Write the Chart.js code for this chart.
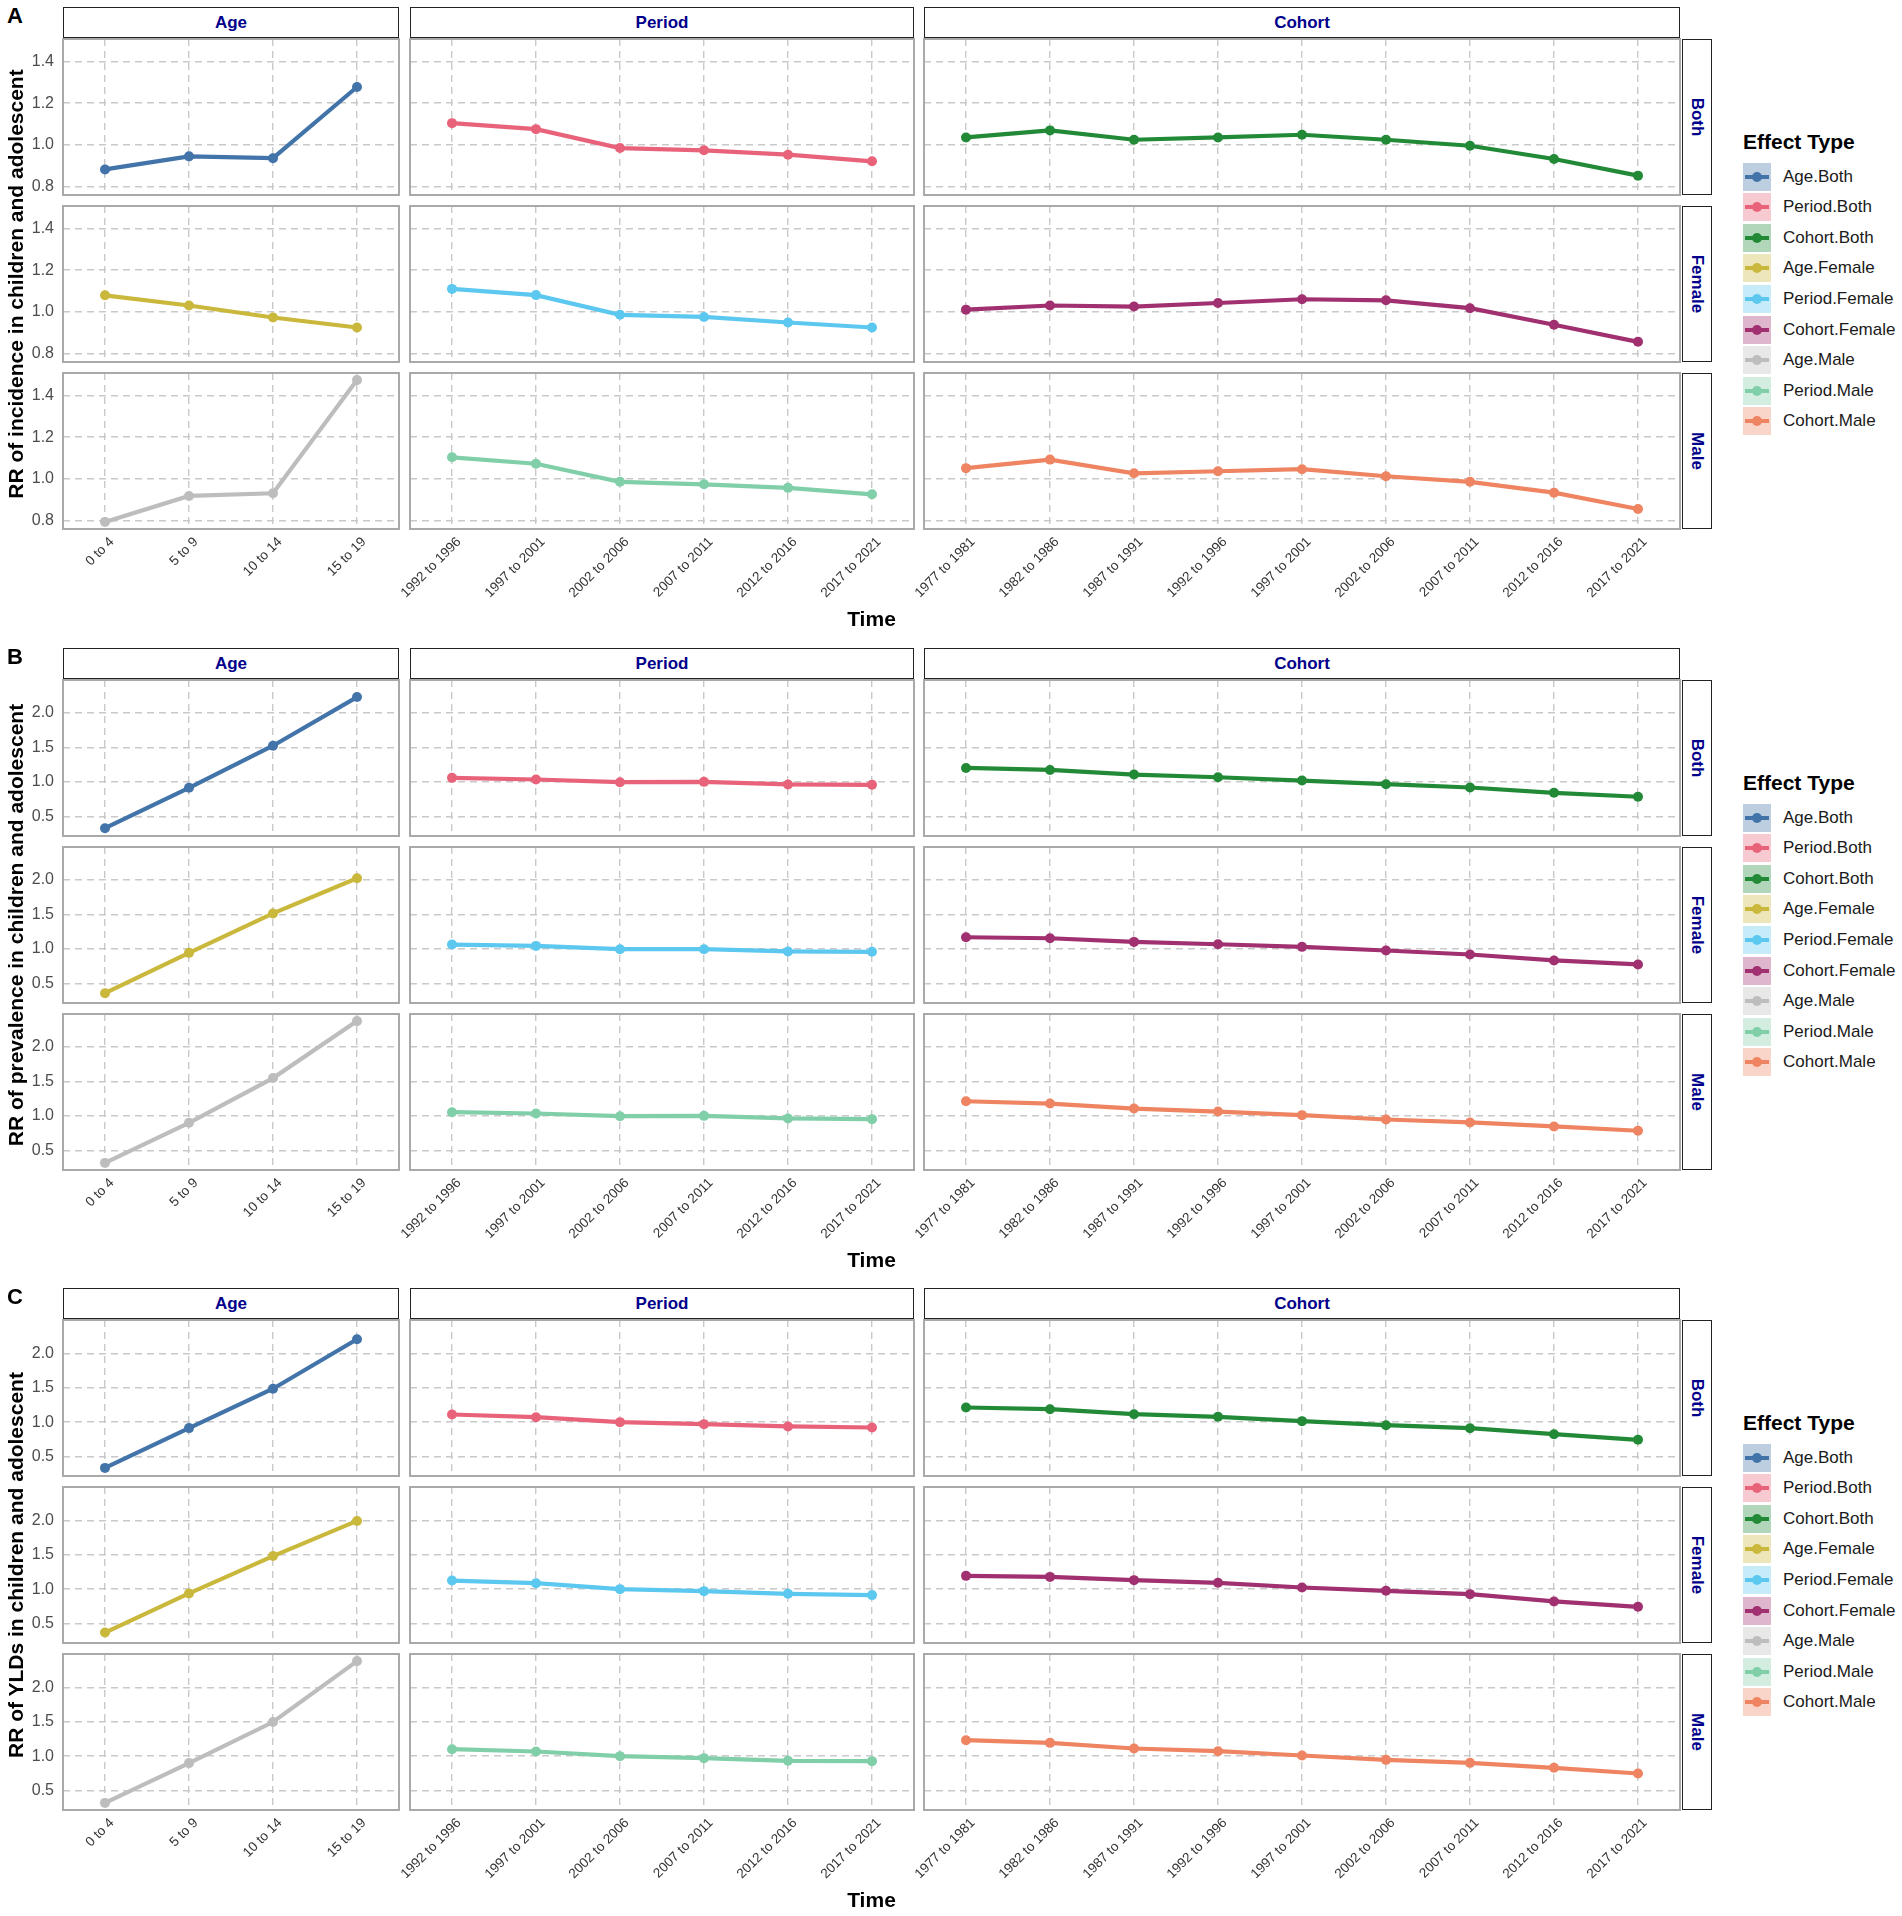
<!DOCTYPE html>
<html><head><meta charset="utf-8">
<script src="https://cdn.jsdelivr.net/npm/chart.js@4.4.1/dist/chart.umd.min.js"></script>
<style>
html,body{margin:0;padding:0;background:#fff;}
body{width:1902px;height:1916px;position:relative;overflow:hidden;font-family:'Liberation Sans',Arial,Helvetica,sans-serif;}
.strip{position:absolute;box-sizing:border-box;border:1.6px solid #222;background:#fff;color:#00008B;font-weight:bold;font-size:17px;display:flex;align-items:center;justify-content:center;white-space:nowrap;}
.vt{transform:rotate(90deg);display:inline-block;}
.letter{position:absolute;font-weight:bold;font-size:22px;line-height:22px;color:#000;}
.ytitle{position:absolute;width:700px;height:26px;line-height:26px;text-align:center;font-weight:bold;font-size:21px;color:#000;transform:rotate(-90deg);white-space:nowrap;}
.xtitle{position:absolute;width:200px;height:26px;line-height:26px;text-align:center;font-weight:bold;font-size:21px;color:#000;}
.ltitle{position:absolute;font-weight:bold;font-size:21px;height:26px;line-height:26px;color:#000;white-space:nowrap;}
.lkey{position:absolute;width:28px;height:28px;}
.lline{position:absolute;left:2px;top:12px;width:24px;height:4px;}
.ldot{position:absolute;left:9px;top:9px;width:10px;height:10px;border-radius:50%;}
.llab{position:absolute;font-size:17px;height:22px;line-height:22px;color:#1a1a1a;white-space:nowrap;}
canvas{position:absolute;}
</style></head><body>
<script>
// ---------- categories / labels ----------
const effectTypes = ['Age', 'Period', 'Cohort'];
const sexGroups = ['Both', 'Female', 'Male'];
const ageGroups = ['0 to 4', '5 to 9', '10 to 14', '15 to 19'];
const periodGroups = ['1992 to 1996', '1997 to 2001', '2002 to 2006', '2007 to 2011', '2012 to 2016', '2017 to 2021'];
const cohortGroups = ['1977 to 1981', '1982 to 1986', '1987 to 1991', '1992 to 1996', '1997 to 2001', '2002 to 2006', '2007 to 2011', '2012 to 2016', '2017 to 2021'];
const panelLetters = ['A', 'B', 'C'];
const measureTitles = ['RR of incidence in children and adolescent', 'RR of prevalence in children and adolescent', 'RR of YLDs in children and adolescent'];
const xAxisTitle = 'Time';
const legendTitle = 'Effect Type';

// ---------- tick labels ----------
const yTicksIncidence = [0.8, 1.0, 1.2, 1.4];
const yTicksPrevalence = [0.5, 1.0, 1.5, 2.0];
const yTicksYLDs = [0.5, 1.0, 1.5, 2.0];

// ---------- A: incidence ----------
const incAgeBoth = [0.881, 0.944, 0.935, 1.278];
const incPeriodBoth = [1.104, 1.075, 0.984, 0.973, 0.952, 0.920];
const incCohortBoth = [1.035, 1.069, 1.024, 1.035, 1.048, 1.024, 0.995, 0.931, 0.851];
const incAgeFemale = [1.079, 1.030, 0.972, 0.924];
const incPeriodFemale = [1.110, 1.080, 0.985, 0.975, 0.948, 0.924];
const incCohortFemale = [1.010, 1.030, 1.025, 1.042, 1.060, 1.055, 1.017, 0.937, 0.855];
const incAgeMale = [0.792, 0.917, 0.930, 1.475];
const incPeriodMale = [1.103, 1.072, 0.985, 0.973, 0.956, 0.925];
const incCohortMale = [1.051, 1.092, 1.026, 1.036, 1.046, 1.012, 0.985, 0.933, 0.854];

// ---------- B: prevalence ----------
const prevAgeBoth = [0.327, 0.913, 1.524, 2.230];
const prevPeriodBoth = [1.058, 1.034, 0.995, 1.000, 0.962, 0.957];
const prevCohortBoth = [1.202, 1.173, 1.106, 1.067, 1.019, 0.966, 0.918, 0.841, 0.784];
const prevAgeFemale = [0.356, 0.942, 1.514, 2.024];
const prevPeriodFemale = [1.062, 1.043, 0.995, 0.995, 0.962, 0.957];
const prevCohortFemale = [1.168, 1.154, 1.101, 1.067, 1.029, 0.976, 0.918, 0.832, 0.774];
const prevAgeMale = [0.317, 0.899, 1.548, 2.375];
const prevPeriodMale = [1.053, 1.034, 0.995, 1.000, 0.962, 0.952];
const prevCohortMale = [1.212, 1.178, 1.106, 1.062, 1.010, 0.947, 0.904, 0.846, 0.784];

// ---------- C: YLDs ----------
const yldAgeBoth = [0.330, 0.913, 1.490, 2.214];
const yldPeriodBoth = [1.112, 1.073, 1.000, 0.971, 0.937, 0.922];
const yldCohortBoth = [1.215, 1.190, 1.117, 1.078, 1.015, 0.956, 0.912, 0.824, 0.741];
const yldAgeFemale = [0.364, 0.937, 1.485, 2.000];
const yldPeriodFemale = [1.126, 1.087, 1.000, 0.971, 0.932, 0.913];
const yldCohortFemale = [1.195, 1.180, 1.132, 1.093, 1.024, 0.976, 0.927, 0.820, 0.741];
const yldAgeMale = [0.315, 0.898, 1.500, 2.393];
const yldPeriodMale = [1.102, 1.068, 1.000, 0.971, 0.932, 0.927];
const yldCohortMale = [1.234, 1.195, 1.112, 1.073, 1.010, 0.946, 0.902, 0.829, 0.746];

// ---------- styling ----------
const seriesColors = {
  'Age.Both': '#4273A9', 'Period.Both': '#E8637A', 'Cohort.Both': '#228A37',
  'Age.Female': '#CAB83D', 'Period.Female': '#5CC8EF', 'Cohort.Female': '#A0306F',
  'Age.Male': '#BDBDBD', 'Period.Male': '#80CFA9', 'Cohort.Male': '#EE8461'
};
const GRID = '#C9C9C9';
const U = 84;
const COL_X = [63, 410, 924];
const ROW_TOP = [39, 206, 373];
const ROW_H = 156;
const STRIP_TOP = 7, STRIP_H = 31;
const RSTRIP_X = 1682, RSTRIP_W = 30;
const PANEL_OFF = [0, 641, 1281];

const measures = [
  { ticks: yTicksIncidence, rows: [[incAgeBoth, incPeriodBoth, incCohortBoth], [incAgeFemale, incPeriodFemale, incCohortFemale], [incAgeMale, incPeriodMale, incCohortMale]] },
  { ticks: yTicksPrevalence, rows: [[prevAgeBoth, prevPeriodBoth, prevCohortBoth], [prevAgeFemale, prevPeriodFemale, prevCohortFemale], [prevAgeMale, prevPeriodMale, prevCohortMale]] },
  { ticks: yTicksYLDs, rows: [[yldAgeBoth, yldPeriodBoth, yldCohortBoth], [yldAgeFemale, yldPeriodFemale, yldCohortFemale], [yldAgeMale, yldPeriodMale, yldCohortMale]] }
];
const colCats = [ageGroups, periodGroups, cohortGroups];

Chart.defaults.font.family = "'Liberation Sans', Arial, Helvetica, sans-serif";

const borderPlugin = {
  id: 'panelBorder',
  afterDatasetsDraw(chart) {
    const { ctx, chartArea: a } = chart;
    ctx.save();
    ctx.strokeStyle = '#A9A9A9';
    ctx.lineWidth = 2;
    ctx.strokeRect(a.left, a.top, a.right - a.left, a.bottom - a.top);
    ctx.restore();
  }
};

function el(cls, css, text) {
  const d = document.createElement('div');
  d.className = cls;
  d.style.cssText = css;
  if (text !== undefined) d.textContent = text;
  document.body.appendChild(d);
  return d;
}

function hexA(hex, a) {
  const n = parseInt(hex.slice(1), 16);
  return `rgba(${n >> 16},${(n >> 8) & 255},${n & 255},${a})`;
}

function makeChart(m, yMin, yMax, r, c, off) {
  const cats = colCats[c];
  const w = cats.length * U;
  const yAxisW = c === 0 ? 63 : 0;
  const padL = c === 0 ? 0 : 80;
  const padR = 8, padT = 10, padB = 10;
  const xAxisH = r === 2 ? 100 : 0;
  const cw = yAxisW + padL + w + padR;
  const ch = padT + ROW_H + xAxisH + padB;
  const cv = document.createElement('canvas');
  cv.width = cw; cv.height = ch;
  cv.style.cssText = `left:${COL_X[c] - yAxisW - padL}px;top:${off + ROW_TOP[r] - padT}px;width:${cw}px;height:${ch}px;`;
  document.body.appendChild(cv);
  const key = effectTypes[c] + '.' + sexGroups[r];
  const col = seriesColors[key];
  new Chart(cv, {
    type: 'line',
    data: { labels: cats, datasets: [{ label: key, data: m.rows[r][c], borderColor: col, backgroundColor: col,
      borderWidth: 4.2, pointRadius: 5, pointHoverRadius: 5, pointBorderWidth: 0, tension: 0 }] },
    options: {
      responsive: false, animation: false, events: [], devicePixelRatio: 1,
      layout: { padding: { left: padL, right: padR, top: padT, bottom: padB } },
      plugins: { legend: { display: false }, tooltip: { enabled: false } },
      scales: {
        x: {
          type: 'category', offset: true,
          grid: { offset: false, color: GRID, lineWidth: 1.4, drawTicks: false },
          border: { display: false, dash: [7, 5] },
          ticks: { display: r === 2, maxRotation: 45, minRotation: 45, autoSkip: false, padding: 5, labelOffset: 7, color: '#333', font: { size: 13.5 } },
          afterFit(s) { s.height = xAxisH; s.paddingLeft = 0; s.paddingRight = 0; }
        },
        y: {
          type: 'linear', min: yMin, max: yMax,
          grid: { color: GRID, lineWidth: 1.4, drawTicks: false },
          border: { display: false, dash: [7, 5] },
          ticks: { display: c === 0, padding: 9, color: '#4D4D4D', font: { size: 16 }, callback: v => Number(v).toFixed(1) },
          afterBuildTicks(s) { s.ticks = m.ticks.map(v => ({ value: v })); },
          afterFit(s) { s.width = yAxisW; s.paddingTop = 0; s.paddingBottom = 0; }
        }
      }
    },
    plugins: [borderPlugin]
  });
}

measures.forEach((m, p) => {
  const off = PANEL_OFF[p];
  const all = m.rows.flat(2);
  const lo = Math.min(...all), hi = Math.max(...all);
  const ex = (hi - lo) * 0.05;
  const yMin = lo - ex, yMax = hi + ex;

  el('letter', `left:7px;top:${off + 5}px;`, panelLetters[p]);

  // top strips
  colCats.forEach((cats, c) => {
    el('strip', `left:${COL_X[c]}px;top:${off + STRIP_TOP}px;width:${cats.length * U}px;height:${STRIP_H}px;`, effectTypes[c]);
  });
  // right strips
  sexGroups.forEach((s, r) => {
    const d = el('strip', `left:${RSTRIP_X}px;top:${off + ROW_TOP[r]}px;width:${RSTRIP_W}px;height:${ROW_H}px;`);
    const t = document.createElement('span'); t.className = 'vt'; t.textContent = s; d.appendChild(t);
  });

  for (let r = 0; r < 3; r++) for (let c = 0; c < 3; c++) makeChart(m, yMin, yMax, r, c, off);

  // y axis title
  const yc = off + (ROW_TOP[0] + ROW_TOP[2] + ROW_H) / 2;
  el('ytitle', `left:${15.5 - 350}px;top:${yc - 13}px;`, measureTitles[p]);
  // x axis title
  el('xtitle', `left:${(COL_X[0] + COL_X[2] + cohortGroups.length * U) / 2 - 100}px;top:${off + 619 - 13}px;`, xAxisTitle);

  // legend
  el('ltitle', `left:1743px;top:${off + 142 - 13}px;`, legendTitle);
  let i = 0;
  sexGroups.forEach(s => effectTypes.forEach(e => {
    const key = e + '.' + s;
    const col = seriesColors[key];
    const cy = off + 176.5 + 30.6 * i;
    const k = el('lkey', `left:1743px;top:${cy - 14}px;background:${hexA(col, 0.35)};`);
    const ln = document.createElement('div'); ln.className = 'lline'; ln.style.background = col; k.appendChild(ln);
    const dt = document.createElement('div'); dt.className = 'ldot'; dt.style.background = col; k.appendChild(dt);
    el('llab', `left:1783px;top:${cy - 11}px;`, key);
    i++;
  }));
});
</script>
</body></html>
